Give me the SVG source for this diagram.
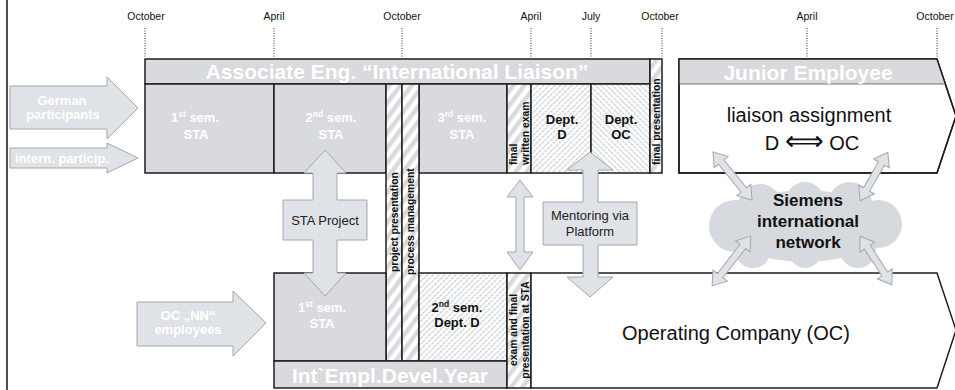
<svg xmlns="http://www.w3.org/2000/svg" width="955" height="390" viewBox="0 0 955 390">
<defs>
<style>
text{font-family:"Liberation Sans",Arial,sans-serif}
.mon{font-size:10.5px;fill:#111;text-anchor:middle}
.dot{stroke:#333;stroke-width:1;stroke-dasharray:1,1.5}
.box{fill:#d9dadd;stroke:#1e1e1e;stroke-width:1.5}
.wht{fill:#fff;stroke:#1e1e1e;stroke-width:1.5}
.hdr{font-size:21px;font-weight:bold;fill:#fff;text-anchor:middle}
.wb{font-size:13px;font-weight:bold;fill:#fff;text-anchor:middle}
.bb{font-size:13px;font-weight:bold;fill:#111;text-anchor:middle}
.col{font-size:10.4px;font-weight:bold;fill:#111}
.big{font-size:20px;fill:#111;text-anchor:middle}
.arr{fill:#dfe2e6;stroke:#a4a8ad;stroke-width:1}
.lab{font-size:13px;fill:#222;text-anchor:middle}
.net{font-size:17px;font-weight:bold;fill:#111;text-anchor:middle}
</style>
<pattern id="stripe" width="9" height="9" patternUnits="userSpaceOnUse" patternTransform="rotate(37)">
<rect width="9" height="9" fill="#fff"/><rect width="4.5" height="9" fill="#d8dadd"/>
</pattern>
<pattern id="fineA" width="4" height="4" patternUnits="userSpaceOnUse" patternTransform="rotate(45)">
<rect width="4" height="4" fill="#fff"/><line x1="0.6" y1="0" x2="0.6" y2="4" stroke="#c6c8cc" stroke-width="1.2" stroke-dasharray="2.5,1"/>
</pattern>
<pattern id="fineB" width="4" height="4" patternUnits="userSpaceOnUse" patternTransform="rotate(-45)">
<rect width="4" height="4" fill="#fff"/><line x1="0.6" y1="0" x2="0.6" y2="4" stroke="#c6c8cc" stroke-width="1.2" stroke-dasharray="2.5,1"/>
</pattern>
</defs>

<line x1="7" y1="0" x2="7" y2="390" stroke="#111" stroke-width="1.5"/>

<g id="timeline">
<text class="mon" x="146" y="20">October</text>
<text class="mon" x="274" y="20">April</text>
<text class="mon" x="402" y="20">October</text>
<text class="mon" x="531" y="20">April</text>
<text class="mon" x="591" y="20">July</text>
<text class="mon" x="660" y="20">October</text>
<text class="mon" x="807" y="20">April</text>
<text class="mon" x="935" y="20">October</text>
<line class="dot" x1="145" y1="28" x2="145" y2="58"/>
<line class="dot" x1="274" y1="28" x2="274" y2="58"/>
<line class="dot" x1="402" y1="28" x2="402" y2="58"/>
<line class="dot" x1="531" y1="28" x2="531" y2="58"/>
<line class="dot" x1="591" y1="28" x2="591" y2="58"/>
<line class="dot" x1="662" y1="28" x2="662" y2="58"/>
<line class="dot" x1="807" y1="28" x2="807" y2="58"/>
<line class="dot" x1="937" y1="28" x2="937" y2="58"/>
</g>

<g id="associate">
<rect class="box" x="145" y="59" width="505" height="25"/>
<text class="hdr" x="397" y="79">Associate Eng. “International Liaison”</text>
<rect class="box" x="145" y="84" width="129" height="89"/>
<text class="wb" x="195" y="121.5">1<tspan font-size="8.5" dy="-4.5">st</tspan><tspan dy="4.5"> sem.</tspan></text>
<text class="wb" x="196" y="139">STA</text>
<rect class="box" x="274" y="84" width="112" height="89"/>
<text class="wb" x="331" y="121.5">2<tspan font-size="8.5" dy="-4.5">nd</tspan><tspan dy="4.5"> sem.</tspan></text>
<text class="wb" x="331" y="139">STA</text>
<rect class="box" x="419" y="84" width="88" height="89"/>
<text class="wb" x="462" y="121.5">3<tspan font-size="8.5" dy="-4.5">rd</tspan><tspan dy="4.5"> sem.</tspan></text>
<text class="wb" x="462" y="139">STA</text>
<rect x="507" y="84" width="24" height="89" fill="url(#stripe)" stroke="#1e1e1e" stroke-width="1.5"/>
<text class="col" font-size="11.5" transform="translate(517,165) rotate(-90)">final</text>
<text class="col" font-size="11.5" transform="translate(529,165) rotate(-90)">written exam</text>
<rect x="531" y="84" width="60" height="89" fill="url(#fineA)" stroke="#1e1e1e" stroke-width="1.5"/>
<text class="bb" x="562" y="124">Dept.</text>
<text class="bb" x="562" y="139">D</text>
<rect x="591" y="84" width="59" height="89" fill="url(#fineB)" stroke="#1e1e1e" stroke-width="1.5"/>
<text class="bb" x="621" y="124">Dept.</text>
<text class="bb" x="621" y="139">OC</text>
<rect x="650" y="59" width="12" height="114" fill="url(#stripe)" stroke="#1e1e1e" stroke-width="1.5"/>
<text class="col" font-size="11" transform="translate(660,165) rotate(-90)">final presentation</text>
</g>

<g id="project-presentation">
<rect x="386" y="84" width="16" height="277" fill="url(#stripe)" stroke="#1e1e1e" stroke-width="1.5"/>
<text class="col" transform="translate(398,272) rotate(-90)">project presentation</text>
</g>
<g id="process-management">
<rect x="402" y="84" width="17" height="277" fill="url(#stripe)" stroke="#1e1e1e" stroke-width="1.5"/>
<text class="col" transform="translate(414,275) rotate(-90)">process management</text>
</g>

<g id="int-empl-devel-year">
<rect class="box" x="274" y="273" width="112" height="88"/>
<text class="wb" x="322" y="311.5">1<tspan font-size="8.5" dy="-4.5">st</tspan><tspan dy="4.5"> sem.</tspan></text>
<text class="wb" x="322" y="327.5">STA</text>
<rect x="419" y="273" width="88" height="88" fill="url(#fineA)" stroke="#1e1e1e" stroke-width="1.5"/>
<text class="bb" x="457" y="311.5">2<tspan font-size="8.5" dy="-4.5">nd</tspan><tspan dy="4.5"> sem.</tspan></text>
<text class="bb" x="457" y="327">Dept. D</text>
<rect class="box" x="274" y="361" width="233" height="27"/>
<text class="hdr" x="390" y="383">Int`Empl.Devel.Year</text>
<rect x="507" y="273" width="24" height="115" fill="url(#stripe)" stroke="#1e1e1e" stroke-width="1.5"/>
<text class="col" font-size="10.6" text-anchor="middle" transform="translate(517,330) rotate(-90)">exam and final</text>
<text class="col" font-size="10.6" text-anchor="middle" transform="translate(529,330) rotate(-90)">presentation at STA</text>
</g>

<g id="operating-company">
<path class="wht" d="M531,273 L937,273 L956,330 L937,388 L531,388 Z"/>
<text class="big" font-size="21" x="736" y="340">Operating Company (OC)</text>
</g>

<g id="junior-employee">
<path class="wht" d="M679,59 L937,59 L956,116 L937,173 L679,173 Z"/>
<path d="M679,59 L937,59 L945.3,84 L679,84 Z" fill="#d9dadd" stroke="none"/>
<path d="M679,59 L937,59 L956,116 L937,173 L679,173 Z" fill="none" stroke="#1e1e1e" stroke-width="1.5"/>
<line x1="679" y1="84" x2="945" y2="84" stroke="#555" stroke-width="0.8"/>
<text class="hdr" x="808" y="80">Junior Employee</text>
<text class="big" x="809" y="122">liaison assignment</text>
<text class="big" x="812" y="150">D <tspan font-family="'DejaVu Sans',sans-serif" font-size="27" font-weight="200">⟺</tspan> OC</text>
</g>

<g id="siemens-network" fill="#d6d9dd">
<ellipse cx="805" cy="226" rx="80" ry="36"/>
<circle cx="735" cy="226" r="26"/>
<circle cx="760" cy="206" r="22"/>
<circle cx="805" cy="201" r="19"/>
<circle cx="850" cy="204" r="22"/>
<circle cx="878" cy="224" r="24"/>
<circle cx="858" cy="250" r="18"/>
<circle cx="805" cy="252" r="16"/>
<circle cx="753" cy="250" r="18"/>
<text class="net" x="808" y="206">Siemens</text>
<text class="net" x="808" y="227">international</text>
<text class="net" x="808" y="248">network</text>
</g>

<g id="connectors">
<g id="in-german">
<path class="arr" d="M10,86 L107,86 L107,77 L138,108 L107,139 L107,129 L10,129 Z"/>
<text class="wb" x="62" y="104.5">German</text>
<text class="wb" x="63" y="118.5">participants</text>
</g>
<g id="in-intern">
<path class="arr" d="M10,148 L107,148 L107,143 L138,158 L107,173 L107,168 L10,168 Z"/>
<text class="wb" x="62" y="162.5">intern. particip.</text>
</g>
<g id="in-oc-nn">
<path class="arr" d="M137,302 L233,302 L233,291 L266,323 L233,356 L233,346 L137,346 Z"/>
<text class="wb" x="188" y="320">OC „NN“</text>
<text class="wb" x="188" y="334">employees</text>
</g>
<g id="sta-project">
<path class="arr" d="M325,150 L346,173 L337,173 L337,200 L367,200 L367,240 L337,240 L337,273 L346,273 L325,296 L304,273 L313,273 L313,240 L283,240 L283,200 L313,200 L313,173 L304,173 Z"/>
<text class="lab" x="325" y="225">STA Project</text>
</g>
<path class="arr" d="M520,180 L533,197 L524,197 L524,252 L533,252 L520,270 L507,252 L516,252 L516,197 L507,197 Z"/>
<g id="mentoring">
<path class="arr" d="M590,152 L613,170 L598,170 L598,202 L637,202 L637,245 L598,245 L598,277 L613,277 L590,297 L567,277 L583,277 L583,245 L543,245 L543,202 L583,202 L583,170 L567,170 Z"/>
<text class="lab" x="590" y="220">Mentoring via</text>
<text class="lab" x="590" y="236">Platform</text>
</g>
<path class="arr" transform="translate(732.5,176) rotate(50.9)" d="M-31,0 L-18,-9 L-18,-3.5 L18,-3.5 L18,-9 L31,0 L18,9 L18,3.5 L-18,3.5 L-18,9 Z"/>
<path class="arr" transform="translate(874,176.5) rotate(119.7)" d="M-28,0 L-15,-9 L-15,-3.5 L15,-3.5 L15,-9 L28,0 L15,9 L15,3.5 L-15,3.5 L-15,9 Z"/>
<path class="arr" transform="translate(731.5,261) rotate(127.9)" d="M-31.5,0 L-18.5,-9 L-18.5,-3.5 L18.5,-3.5 L18.5,-9 L31.5,0 L18.5,9 L18.5,3.5 L-18.5,3.5 L-18.5,9 Z"/>
<path class="arr" transform="translate(876,260.5) rotate(56.9)" d="M-29,0 L-16,-9 L-16,-3.5 L16,-3.5 L16,-9 L29,0 L16,9 L16,3.5 L-16,3.5 L-16,9 Z"/>
</g>
</svg>
